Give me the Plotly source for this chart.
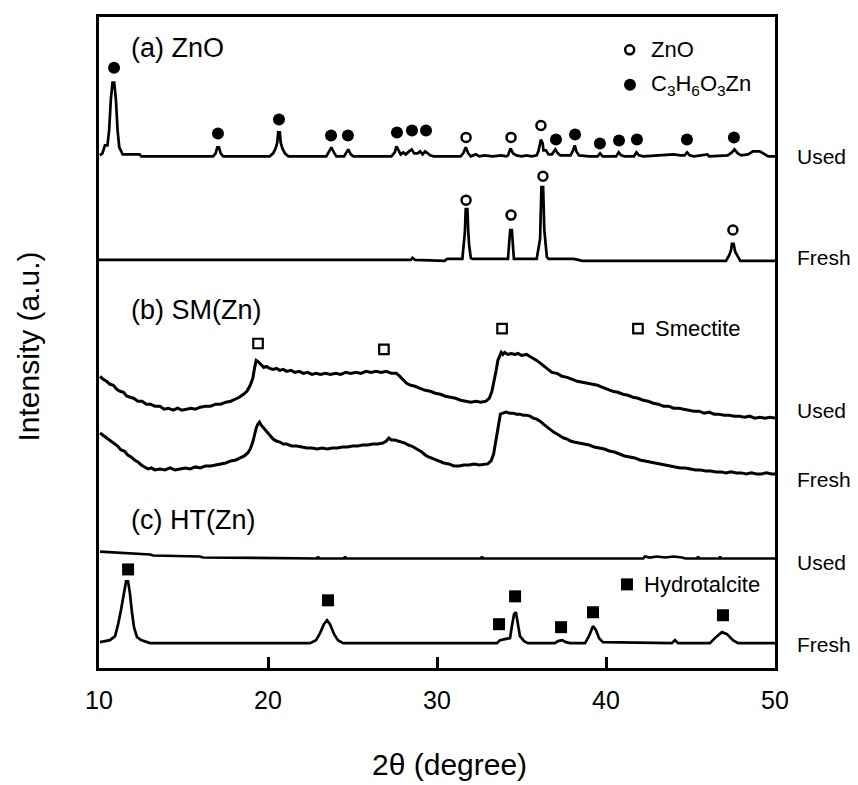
import plotly.graph_objects as go

# ---------------- data (2theta in degree, intensity in a.u.) ----------------
# (a) ZnO  - used
zno_used_x = [10.05, 10.2, 10.35, 10.5, 10.6, 10.7, 10.8, 10.9, 11.0, 11.1, 11.2, 11.3, 11.4, 12.4, 12.5,
              16.75, 16.9, 17.0, 17.1, 17.2, 17.35,
              20.1, 20.3, 20.45, 20.55, 20.6, 20.7, 20.75, 20.85, 21.0, 21.2,
              23.45, 23.6, 23.75, 23.9, 24.05, 24.5, 24.65, 24.75, 24.9, 25.05,
              27.3, 27.5, 27.6, 27.7, 27.85, 28.0, 28.15, 28.35, 28.5, 28.65, 28.85, 29.0, 29.15, 29.3, 29.45, 29.6, 29.8,
              31.4, 31.55, 31.7, 31.85, 32.0, 32.3, 32.5, 32.8, 33.3, 33.8, 34.1,
              34.2, 34.35, 34.5, 34.7, 35.0, 35.3, 35.6,
              35.9, 36.0, 36.1, 36.15, 36.25, 36.3, 36.45, 36.6, 36.8, 37.0, 37.15, 37.3,
              37.9, 38.05, 38.15, 38.25, 38.4, 39.0, 39.5, 39.65, 39.8,
              40.6, 40.75, 40.9, 41.1, 41.65, 41.8, 41.95, 42.2, 43.6, 44.0, 44.4,
              44.65, 44.8, 44.95, 45.2, 46.0, 46.1, 47.2, 47.45, 47.6, 47.8, 48.0,
              48.4, 48.7, 49.1, 49.4, 49.6, 50.0]
zno_used_y = [0, 2, 10, 10, 25, 56, 73, 73, 56, 25, 8, 5, 1, 1, -1,
              -1, 2, 8, 8, 2, -1,
              -1, 2, 7, 13, 23, 23, 13, 7, 2, -1,
              -1, 4, 8, 3, -1, -1, 4, 6, 1, -1,
              -1, 3, 9, 6, 1, 3, 1, 4, 6, 2, 2, 4, 1, 4, 2, 0, -1,
              -1, 2, 8, 2, -1, 1, -1, 0, -1, 0, -1,
              0, 7, 2, 0, -1, 0, -1,
              0, 4, 12, 16, 12, 5, 5, 1, 1, 6, 2, 0,
              0, 5, 10, 4, 0, -1, -1, 2, -1,
              -1, 3, 0, -1, -1, 3, 0, -1, 1, 1, 0,
              0, 3, 0, -1, 1, -1, 0, 3, 6, 2, 0,
              1, 4, 4, 1, -1, -1]

# (a) ZnO  - fresh
zno_fresh_x = [10.0, 28.45, 28.55, 28.7, 30.45, 30.6, 31.5, 31.6, 31.65, 31.7, 31.8, 31.85, 31.9, 32.0, 32.1,
               34.2, 34.27, 34.33, 34.43, 34.48, 34.55,
               35.9, 36.0, 36.1, 36.18, 36.28, 36.35, 36.42, 36.5, 36.6, 38.1, 38.6,
               47.1, 47.3, 47.4, 47.45, 47.55, 47.65, 47.8, 47.95, 50.0]
zno_fresh_y = [0, 0, 2, 0, -1, 1, 1, 15, 28, 51, 51, 28, 15, 2, 1,
               1, 15, 30, 30, 15, 1,
               1, 10, 21, 73, 73, 30, 15, 3, 1, 1, -1,
               -1, 5, 10, 16, 16, 8, 4, -1, -1]

# (b) SM(Zn) - used
sm_used_x = [10.06, 10.25, 10.45, 10.65, 10.85, 11.05, 11.25, 11.45, 11.65, 11.85, 12.05, 12.3, 12.55, 12.8, 13.05,
             13.3, 13.6, 13.85, 14.1, 14.4, 14.65, 14.9, 15.15, 15.45, 15.7, 16.0, 16.3, 16.6, 16.9, 17.2, 17.5,
             17.8, 18.05, 18.3, 18.55, 18.75, 18.95, 19.1, 19.2, 19.3, 19.4, 19.5, 19.6, 19.75, 19.9, 20.1, 20.3,
             20.5, 20.7, 20.9, 21.1, 21.35, 21.6, 21.85, 22.1, 22.35, 22.6, 22.85, 23.1, 23.4, 23.7, 24.0, 24.3,
             24.6, 24.9, 25.2, 25.5, 25.8, 26.1, 26.4, 26.7, 27.0, 27.3, 27.6, 27.8, 28.0, 28.2, 28.45, 28.7,
             29.0, 29.3, 29.6, 29.9, 30.2, 30.5, 30.8, 31.1, 31.4, 31.7, 32.0, 32.3, 32.6, 32.9, 33.1, 33.25,
             33.4, 33.5, 33.6, 33.7, 33.8, 33.9, 34.0, 34.2, 34.4, 34.6, 34.8, 35.0, 35.3, 35.6, 35.9, 36.2,
             36.5, 36.8, 37.1, 37.4, 37.7, 38.0, 38.3, 38.6, 38.9, 39.2, 39.5, 39.8, 40.1, 40.4, 40.7, 41.0,
             41.3, 41.6, 41.9, 42.2, 42.5, 42.8, 43.1, 43.4, 43.7, 44.0, 44.3, 44.6, 44.9, 45.2, 45.5, 45.8,
             46.1, 46.4, 46.7, 47.0, 47.3, 47.6, 47.9, 48.2, 48.5, 48.8, 49.1, 49.4, 49.7, 50.0]
sm_used_y = [42, 39, 37, 34, 33, 29, 27, 26, 22, 21, 20, 17, 17, 14, 14,
             12, 12, 9, 10, 8, 10, 8, 9, 10, 9, 11, 12, 12, 14, 14, 16,
             17, 19, 21, 24, 27, 33, 40, 50, 58, 57, 55, 53, 51, 52, 50, 49,
             50, 48, 49, 47, 48, 46, 47, 45, 46, 44, 45, 44, 45, 44, 45, 44,
             46, 45, 46, 45, 47, 46, 47, 46, 47, 45, 45, 42, 38, 35, 33, 32,
             30, 28, 27, 25, 24, 22, 21, 20, 18, 17, 16, 17, 16, 17, 20, 27,
             38, 48, 58, 62, 66, 64, 66, 64, 65, 64, 65, 63, 64, 61, 58, 54,
             50, 46, 45, 42, 41, 39, 37, 36, 35, 34, 33, 31, 29, 27, 26, 24,
             23, 21, 20, 18, 17, 15, 14, 12, 12, 10, 10, 9, 8, 7, 7, 5,
             6, 4, 4, 3, 3, 2, 2, 1, 2, 0, 1, 0, 1, 0]

# (b) SM(Zn) - fresh
sm_fresh_x = [10.06, 10.3, 10.5, 10.7, 10.9, 11.1, 11.3, 11.5, 11.7, 11.9, 12.1, 12.3, 12.5, 12.7, 12.9, 13.1,
              13.3, 13.6, 13.9, 14.2, 14.5, 14.8, 15.1, 15.4, 15.7, 16.0, 16.3, 16.6, 16.9, 17.2, 17.5, 17.8,
              18.1, 18.35, 18.6, 18.8, 18.95, 19.1, 19.2, 19.3, 19.4, 19.5, 19.6, 19.7, 19.85, 20.0, 20.15, 20.3,
              20.5, 20.7, 20.9, 21.1, 21.4, 21.7, 22.0, 22.3, 22.6, 22.9, 23.2, 23.5, 23.8, 24.1, 24.4, 24.7,
              25.0, 25.3, 25.6, 25.9, 26.2, 26.5, 26.8, 27.0, 27.15, 27.3, 27.5, 27.7, 27.9, 28.1, 28.3, 28.5,
              28.7, 28.9, 29.1, 29.3, 29.5, 29.8, 30.1, 30.4, 30.7, 31.0, 31.3, 31.6, 31.9, 32.2, 32.5, 32.8,
              33.0, 33.2, 33.35, 33.45, 33.55, 33.65, 33.75, 33.9, 34.1, 34.3, 34.5, 34.7, 34.9, 35.1, 35.3, 35.5,
              35.7, 35.9, 36.1, 36.3, 36.5, 36.7, 36.9, 37.1, 37.3, 37.5, 37.7, 37.9, 38.1, 38.4, 38.7, 39.0,
              39.3, 39.6, 39.9, 40.2, 40.5, 40.8, 41.1, 41.4, 41.7, 42.0, 42.3, 42.6, 42.9, 43.2, 43.5, 43.8,
              44.1, 44.4, 44.7, 45.0, 45.3, 45.6, 45.9, 46.2, 46.5, 46.8, 47.1, 47.4, 47.7, 48.0, 48.3, 48.6,
              48.9, 49.2, 49.5, 49.8, 50.0]
sm_fresh_y = [41, 38, 35, 33, 30, 28, 24, 23, 19, 17, 14, 12, 9, 7, 5, 6,
              4, 5, 4, 6, 4, 5, 6, 5, 7, 6, 8, 8, 9, 10, 11, 13,
              14, 16, 18, 21, 25, 32, 40, 46, 50, 52, 49, 47, 44, 41, 38, 35,
              33, 32, 30, 30, 28, 28, 27, 26, 26, 25, 26, 25, 26, 26, 27, 27,
              28, 28, 29, 29, 30, 30, 31, 33, 36, 34, 34, 33, 32, 31, 29, 28,
              26, 24, 22, 19, 17, 15, 13, 11, 10, 8, 8, 9, 9, 10, 9, 10,
              10, 13, 20, 30, 40, 52, 60, 61, 62, 61, 61, 60, 60, 59, 59, 58,
              56, 55, 53, 50, 47, 45, 42, 40, 38, 36, 35, 33, 32, 31, 30, 29,
              27, 26, 25, 23, 22, 20, 18, 17, 16, 14, 13, 12, 11, 10, 9, 8,
              7, 6, 6, 5, 4, 4, 3, 3, 2, 2, 1, 2, 1, 1, 0, 1,
              0, 0, 1, 0, 0]

# (c) HT(Zn) - used
ht_used_x = [10.06, 11.12, 11.83, 13.02, 13.2, 15.98, 16.15, 22.9, 22.96, 23.02, 24.5, 24.56, 24.62,
             32.6, 32.66, 32.72, 42.2, 42.3, 42.6, 43.0, 43.5, 44.0, 44.5, 44.7,
             45.4, 45.45, 45.5, 46.7, 46.75, 46.8, 50.0]
ht_used_y = [7, 6, 5, 4, 3, 2, 1, 0, 2, 0, 0, 2, 0,
             0, 2, 0, 0, 2, 1, 2, 1, 2, 1, 0,
             0, 2, 0, 0, 2, 0, 0]

# (c) HT(Zn) - fresh
ht_fresh_x = [10.06, 10.65, 10.95, 11.12, 11.3, 11.48, 11.6, 11.72, 11.83, 11.95, 12.07, 12.25, 12.49, 13.02,
              22.49, 22.84, 23.08, 23.31, 23.49, 23.67, 23.91, 24.14, 24.44,
              33.55, 33.73, 34.02, 34.32, 34.44, 34.56, 34.67, 34.79, 34.91, 35.15, 35.38,
              36.98, 37.16, 37.4, 37.63, 37.87, 38.76, 38.99, 39.23, 39.41, 39.59, 39.82,
              43.9, 44.08, 44.26, 46.15, 46.5, 46.86, 47.16, 47.51, 47.81, 50.0]
ht_fresh_y = [1, 3, 7, 18, 33, 53, 62, 62, 50, 31, 16, 6, 3, 0,
              0, 3, 10, 19, 23, 19, 9, 3, 0,
              0, 3, 4, 5, 18, 29, 31, 18, 7, 2, 0,
              0, 2, 3, 1, 0, 0, 7, 17, 13, 5, 1,
              0, 3, 0, 0, 6, 11, 9, 3, 0, 0]

# vertical stacking offsets (a.u.)
offsets = {"zno_used": 515, "zno_fresh": 410, "sm_used": 251, "sm_fresh": 195, "ht_used": 110, "ht_fresh": 25}

# sample-state labels on the right of each pattern
state_labels = ["Used", "Fresh", "Used", "Fresh", "Used", "Fresh"]
state_label_y = [514, 412, 259, 189, 106, 24]

# phase markers (2theta, a.u. on stacked scale)
lactate_x = [10.89, 17.04, 20.65, 23.73, 24.73, 27.63, 28.52, 29.35, 37.04, 38.17, 39.64, 40.77, 41.83, 44.79, 47.57]
lactate_y = [603, 537, 551, 535, 535, 538, 540, 540, 531, 536, 527, 530, 531, 531, 533]
zno_mark_x = [31.72, 34.38, 36.15, 31.72, 34.38, 36.27, 47.51]
zno_mark_y = [533, 533, 545, 470, 455, 494, 440]
smectite_x = [19.41, 26.86, 33.85]
smectite_y = [326, 320, 341]
hydrotalcite_x = [11.72, 23.55, 33.67, 34.62, 37.34, 39.23, 46.92]
hydrotalcite_y = [99, 68, 44, 72, 41, 56, 53]

x_ticks = [10, 20, 30, 40, 50]

FONT = "Arial, Liberation Sans, sans-serif"
fig = go.Figure()

def add_line(xs, ys, off, w=2.7):
    fig.add_trace(go.Scatter(x=xs, y=[v + off for v in ys], mode="lines",
                             line=dict(color="black", width=w), showlegend=False, hoverinfo="skip"))

add_line(zno_used_x, zno_used_y, offsets["zno_used"])
add_line(zno_fresh_x, zno_fresh_y, offsets["zno_fresh"])
add_line(sm_used_x, sm_used_y, offsets["sm_used"], 3)
add_line(sm_fresh_x, sm_fresh_y, offsets["sm_fresh"], 3)
add_line(ht_used_x, ht_used_y, offsets["ht_used"])
add_line(ht_fresh_x, ht_fresh_y, offsets["ht_fresh"])

def add_markers(xs, ys, symbol, size, lw=0):
    fig.add_trace(go.Scatter(x=xs, y=ys, mode="markers", showlegend=False, cliponaxis=False,
                             marker=dict(symbol=symbol, size=size, color="black",
                                         line=dict(width=lw, color="black"))))

add_markers(lactate_x, lactate_y, "circle", 12)
add_markers(zno_mark_x, zno_mark_y, "circle-open", 9, 2.5)
add_markers(smectite_x, smectite_y, "square-open", 9.5, 2.2)
add_markers(hydrotalcite_x, hydrotalcite_y, "square", 12)

# in-plot legend keys
add_markers([41.4], [621], "circle-open", 9, 2.5)
add_markers([41.42], [586], "circle", 12)
add_markers([41.89], [341], "square-open", 9.5, 2.2)
add_markers([41.24], [84], "square", 12)

annotations = []
def txt(x, y, s, size, xref="x", yref="y", xanchor="left", **kw):
    annotations.append(dict(x=x, y=y, xref=xref, yref=yref, text=s, showarrow=False,
                            xanchor=xanchor, yanchor="middle", font=dict(family=FONT, size=size, color="black"), **kw))

txt(42.55, 621, "ZnO", 22)
txt(42.55, 586, "C<sub>3</sub>H<sub>6</sub>O<sub>3</sub>Zn", 22)
txt(42.8, 341, "Smectite", 22)
txt(42.15, 84, "Hydrotalcite", 22)

txt(11.75, 623, "(a) ZnO", 27)
txt(11.75, 360, "(b) SM(Zn)", 27)
txt(11.75, 149, "(c) HT(Zn)", 27)

# page has an 8 px body margin: figure is sized to fit the 858x785 window
PAGE = 8
W, H = 858 - PAGE, 785 - PAGE
L, T = 99 - PAGE, 14 - PAGE
R, B = W - (775 - PAGE), H - (668 - PAGE)
pw, ph = W - L - R, H - T - B
def px_x(p):
    return (p - PAGE - L) / pw
def py_y(p):
    return (H - B - (p - PAGE)) / ph

for label, yv in zip(state_labels, state_label_y):
    txt(px_x(795), yv, label, 21, xref="paper", yref="y")

txt(px_x(449), py_y(765), "2θ (degree)", 30, xref="paper", yref="paper", xanchor="center")
txt(px_x(28), py_y(345), "Intensity (a.u.)", 30, xref="paper", yref="paper", xanchor="center", textangle=-90)

fig.update_layout(
    width=W, height=H,
    margin=dict(l=L, r=R, t=T, b=B),
    paper_bgcolor="white", plot_bgcolor="white",
    annotations=annotations,
    showlegend=False,
    xaxis=dict(range=[10, 50], tickvals=x_ticks, ticktext=[str(v) for v in x_ticks],
               ticks="inside", ticklen=11, tickwidth=2.5, tickcolor="black",
               showline=True, linewidth=3, linecolor="black", mirror=True,
               showgrid=False, zeroline=False, ticklabelstandoff=8,
               tickfont=dict(family=FONT, size=25, color="black")),
    yaxis=dict(range=[0, 654], showticklabels=False, ticks="", showgrid=False, zeroline=False,
               showline=True, linewidth=3, linecolor="black", mirror=True),
)

fig.write_html("out.html")
